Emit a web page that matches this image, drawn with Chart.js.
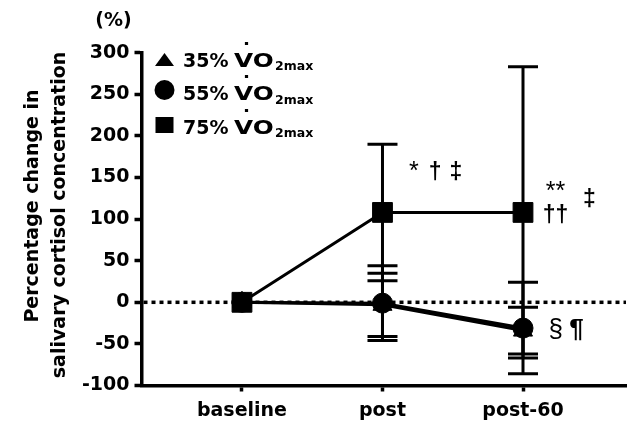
<!DOCTYPE html>
<html><head><meta charset="utf-8">
<script src="https://cdn.jsdelivr.net/npm/chart.js@4/dist/chart.umd.min.js"></script>
<style>html,body{margin:0;padding:0;background:#fff;}#wrap{width:630px;height:429px;position:relative;}</style>
</head><body><div id="wrap"><canvas id="c" width="630" height="429"></canvas></div>
<script>
const categories = ['baseline', 'post', 'post-60'];
const seriesNames = ['35%', '55%', '75%'];
const mean35 = [0, -3, -34];
const sd35 = [0, 38, 28];
const mean55 = [0, -1, -31];
const sd55 = [0, 45, 55];
const mean75 = [0, 108, 108];
const sd75 = [0, 82, 175];
const yTicks = [-100, -50, 0, 50, 100, 150, 200, 250, 300];
const yTitleLines = ['Percentage change in', 'salivary cortisol concentration'];
const unitLabel = '(%)';
const annoText = ['*', '\u2020', '\u2021', '**', '\u2020\u2020', '\u2021', '\u00A7', '\u00B6'];
const annoX = [1.224, 1.374, 1.522, 2.231, 2.231, 2.472, 2.233, 2.381];
const annoY = [148.2, 148.2, 148.2, 124.6, 96.5, 115.7, -41.7, -41.7];
const annoSize = [25, 23, 23, 25, 23, 23, 26, 26];
const annoWeight = ['normal', 'bold', 'bold', 'normal', 'bold', 'bold', 'normal', 'bold'];

const FAM = '"DejaVu Sans"';
const AFAM = '"Liberation Sans", Arial, sans-serif';
const means = [mean35, mean55, mean75];
const sds = [sd35, sd55, sd75];
const styles = ['triangle', 'circle', 'rect'];
const radii = [11, 10, 14];

const extras = {
  id: 'extras',
  beforeDatasetsDraw(chart) {
    const ctx = chart.ctx, xs = chart.scales.x, ys = chart.scales.y, a = chart.chartArea;
    ctx.save();
    ctx.strokeStyle = '#000';
    ctx.lineWidth = 3.5;
    ctx.setLineDash([4, 4]);
    const y0 = ys.getPixelForValue(0);
    ctx.beginPath(); ctx.moveTo(a.left + 2, y0); ctx.lineTo(a.right, y0); ctx.stroke();
    ctx.setLineDash([]);
    ctx.lineWidth = 3;
    for (let s = 0; s < means.length; s++) {
      for (let j = 0; j < categories.length; j++) {
        if (!sds[s][j]) continue;
        const x = xs.getPixelForValue(j);
        const yt = ys.getPixelForValue(means[s][j] + sds[s][j]);
        const yb = ys.getPixelForValue(means[s][j] - sds[s][j]);
        ctx.beginPath();
        ctx.moveTo(x, yt); ctx.lineTo(x, yb);
        ctx.moveTo(x - 15, yt); ctx.lineTo(x + 15, yt);
        ctx.moveTo(x - 15, yb); ctx.lineTo(x + 15, yb);
        ctx.stroke();
      }
    }
    ctx.restore();
  },
  afterDraw(chart) {
    const ctx = chart.ctx, xs = chart.scales.x, ys = chart.scales.y;
    ctx.save();
    ctx.fillStyle = '#000';
    ctx.font = 'bold 19px ' + FAM;
    ctx.textAlign = 'center'; ctx.textBaseline = 'middle';
    const tpos = [[33, 206], [60, 215]];
    yTitleLines.forEach((t, i) => {
      ctx.save(); ctx.translate(tpos[i][0], tpos[i][1]); ctx.rotate(-Math.PI / 2);
      ctx.fillText(t, 0, 0); ctx.restore();
    });
    ctx.fillText(unitLabel, 113.5, 21);
    // legend
    const lx = 164.5, rows = [60, 90, 125], base = [66.5, 100, 133.5];
    ctx.beginPath(); ctx.moveTo(lx, rows[0] - 7); ctx.lineTo(lx + 9.5, rows[0] + 6); ctx.lineTo(lx - 9.5, rows[0] + 6); ctx.closePath(); ctx.fill();
    ctx.beginPath(); ctx.arc(lx, rows[1], 10, 0, Math.PI * 2); ctx.fill();
    ctx.fillRect(lx - 9, rows[2] - 8, 18, 16);
    ctx.textBaseline = 'alphabetic';
    seriesNames.forEach((n, i) => {
      const b = base[i];
      ctx.textAlign = 'left';
      ctx.font = 'bold 19px ' + FAM;
      ctx.fillText(n, 183, b);
      ctx.save(); ctx.translate(234, b); ctx.scale(1.3, 1);
      ctx.fillText('VO', 0, 0); ctx.restore();
      ctx.textAlign = 'center';
      ctx.font = 'bold 24px ' + FAM;
      ctx.fillText('\u02D9', 246.5, b - 6);
      ctx.textAlign = 'left';
      ctx.font = 'bold 12.5px ' + FAM;
      ctx.fillText('2max', 275, b + 3.5);
    });
    ctx.textAlign = 'center';
    annoText.forEach((t, i) => {
      ctx.font = annoWeight[i] + ' ' + annoSize[i] + 'px ' + AFAM;
      ctx.fillText(t, xs.getPixelForValue(annoX[i]), ys.getPixelForValue(annoY[i]));
    });
    ctx.restore();
  }
};

new Chart(document.getElementById('c').getContext('2d'), {
  type: 'line',
  data: {
    datasets: means.map((m, s) => ({
      label: seriesNames[s],
      data: m.map((v, i) => ({ x: i, y: v })),
      borderColor: '#000', backgroundColor: '#000',
      pointBackgroundColor: '#000', pointBorderColor: '#000', pointBorderWidth: 1,
      borderWidth: 3, tension: 0,
      pointStyle: styles[s], pointRadius: radii[s],
      order: 2 - s
    }))
  },
  options: {
    responsive: false, animation: false, events: [],
    layout: { autoPadding: false, padding: { left: 0, right: 4, top: 52.7, bottom: 0 } },
    plugins: { legend: { display: false }, tooltip: { enabled: false } },
    scales: {
      x: {
        type: 'linear', min: -0.715, max: 2.733,
        afterBuildTicks: (a) => { a.ticks = categories.map((c, i) => ({ value: i })); },
        ticks: { callback: (v) => categories[v], font: { family: FAM, size: 19, weight: 'bold' }, color: '#000', padding: 8, maxRotation: 0, autoSkip: false },
        grid: { drawOnChartArea: false, drawTicks: true, tickLength: 6, tickWidth: 3.5, tickColor: '#000' },
        border: { display: true, color: '#000', width: 3.5 },
        afterFit: (s) => { s.height = 43.5; s.paddingLeft = 0; s.paddingRight = 0; }
      },
      y: {
        min: -100, max: 300,
        afterBuildTicks: (a) => { a.ticks = yTicks.map(v => ({ value: v })); },
        ticks: { font: { family: FAM, size: 19, weight: 'bold' }, color: '#000', padding: 5 },
        grid: { drawOnChartArea: false, drawTicks: true, tickLength: 7, tickWidth: 3.5, tickColor: '#000' },
        border: { display: true, color: '#000', width: 3.5 },
        afterFit: (s) => { s.width = 141.5; s.paddingTop = 0; s.paddingBottom = 0; }
      }
    }
  },
  plugins: [extras]
});
</script></body></html>
